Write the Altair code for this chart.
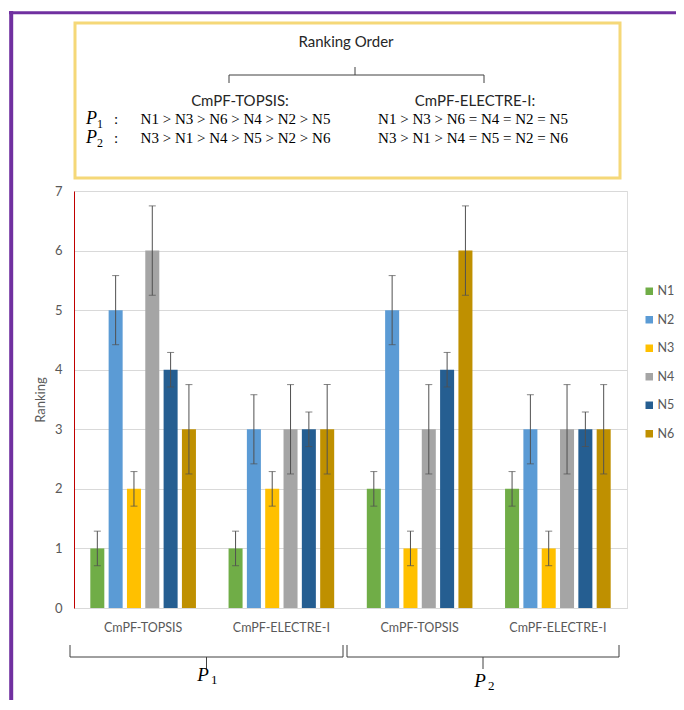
import altair as alt
import pandas as pd

# ---------------- data ----------------
groups = ["P1|CmPF-TOPSIS", "P1|CmPF-ELECTRE-I", "P2|CmPF-TOPSIS", "P2|CmPF-ELECTRE-I"]
series = ["N1", "N2", "N3", "N4", "N5", "N6"]
rank_p1_topsis = [1, 5, 2, 6, 4, 3]
rank_p1_electre = [1, 3, 2, 3, 3, 3]
rank_p2_topsis = [2, 5, 1, 3, 4, 6]
rank_p2_electre = [2, 3, 1, 3, 3, 3]
error_half = [0.29, 0.58, 0.29, 0.75, 0.29, 0.75]
colors = ["#70AD47", "#5B9BD5", "#FFC000", "#A5A5A5", "#255E91", "#BF9000"]
y_ticks = [0, 1, 2, 3, 4, 5, 6, 7]

box_title = "Ranking Order"
method_labels = ["CmPF-TOPSIS:", "CmPF-ELECTRE-I:"]
order_p1 = ["N1 > N3 > N6 > N4 > N2 > N5", "N1 > N3 > N6 = N4 = N2 = N5"]
order_p2 = ["N3 > N1 > N4 > N5 > N2 > N6", "N3 > N1 > N4 = N5 = N2 = N6"]
p_labels = ["1", "2"]

all_ranks = [rank_p1_topsis, rank_p1_electre, rank_p2_topsis, rank_p2_electre]
rows = []
for g, ranks in zip(groups, all_ranks):
    for s, v, e in zip(series, ranks, error_half):
        rows.append({"group": g, "series": s, "value": v, "lo": v - e, "hi": v + e})
df = pd.DataFrame(rows)
one = pd.DataFrame({"d": [0]})

W, H = 553, 417
SANS = "Lato"
SERIF = "Liberation Serif"
GRAY = "#595959"

x_enc = alt.X("group:N", sort=groups, title=None,
              scale=alt.Scale(paddingInner=0, paddingOuter=0),
              axis=alt.Axis(labelExpr="split(datum.label, '|')[1]", labelAngle=0,
                            ticks=False, domainColor="#D9D9D9", labelColor=GRAY,
                            labelFont=SANS, labelFontSize=12.5, labelPadding=13, grid=False))
xo_enc = alt.XOffset("series:N", sort=series,
                     scale=alt.Scale(paddingInner=0.235, paddingOuter=0.89))

base = alt.Chart(df)
bars = base.mark_bar().encode(
    x=x_enc, xOffset=xo_enc,
    y=alt.Y("value:Q", title="Ranking",
            scale=alt.Scale(domain=[0, 7], nice=False),
            axis=alt.Axis(values=y_ticks, format="d", grid=True, gridColor="#D9D9D9",
                          ticks=False, domainColor="#C00000", labelColor=GRAY,
                          labelFont=SANS, labelFontSize=13, labelPadding=12,
                          titleColor=GRAY, titleFont=SANS, titleFontSize=13,
                          titleFontWeight="normal", titlePadding=7)),
    color=alt.Color("series:N", sort=series,
                    scale=alt.Scale(domain=series, range=colors),
                    legend=alt.Legend(orient="none", legendX=569, legendY=94, title=None,
                                      symbolType="square", symbolSize=56, symbolStrokeWidth=0,
                                      labelFont=SANS, labelFontSize=12.5, labelColor=GRAY,
                                      rowPadding=15.5, labelOffset=2, padding=0)),
)
err = base.mark_rule(color="#505050", strokeWidth=1).encode(
    x=alt.X("group:N", sort=groups), xOffset=alt.XOffset("series:N", sort=series),
    y="lo:Q", y2="hi:Q")
cap_lo = base.mark_tick(color="#505050", thickness=1, size=7).encode(
    x=alt.X("group:N", sort=groups), xOffset=alt.XOffset("series:N", sort=series),
    y="lo:Q")
cap_hi = base.mark_tick(color="#505050", thickness=1, size=7).encode(
    x=alt.X("group:N", sort=groups), xOffset=alt.XOffset("series:N", sort=series),
    y="hi:Q")


def rule(x, y, x2, y2, color="#404040", width=1):
    return alt.Chart(one).mark_rule(color=color, strokeWidth=width).encode(
        x=alt.value(x), y=alt.value(y), x2=alt.value(x2), y2=alt.value(y2))


def text(t, x, y, font=SANS, size=15, align="center", style="normal", color="#262626"):
    return alt.Chart(one).mark_text(text=t, font=font, fontSize=size, align=align,
                                    baseline="middle", fontStyle=style, color=color).encode(
        x=alt.value(x), y=alt.value(y))


def brace_down(x1, x2, xm, y, h):  # opening downward, tip up
    return [rule(x1, y, x2, y), rule(x1, y, x1, y + h), rule(x2, y, x2, y + h),
            rule(xm, y, xm, y - h)]


def brace_up(x1, x2, xm, y, h):  # opening upward, tip down
    return [rule(x1, y, x2, y), rule(x1, y, x1, y - h), rule(x2, y, x2, y - h),
            rule(xm, y, xm, y + h)]


deco = []
# purple frame
deco.append(rule(-62.8, -180, -62.8, 520, color="#7030A0", width=4))
deco.append(rule(-65, -178.2, 620, -178.2, color="#7030A0", width=3))
# yellow box
deco.append(alt.Chart(one).mark_rect(fillOpacity=0, stroke="#F5D878", strokeWidth=3).encode(
    x=alt.value(1), x2=alt.value(546), y=alt.value(-168), y2=alt.value(-13)))
deco.append(text(box_title, 272, -149))
deco += brace_down(155, 410, 281, -116, 8)
deco.append(text(method_labels[0], 166, -90))
deco.append(text(method_labels[1], 401, -90))
for yy, lab, rowtexts in [(-72, p_labels[0], order_p1), (-53, p_labels[1], order_p2)]:
    deco.append(text("P", 12, yy, font=SERIF, size=18, align="left", style="italic", color="#000"))
    deco.append(text(lab, 23, yy + 5, font=SERIF, size=12, align="left", color="#000"))
    deco.append(text(":", 40, yy, font=SERIF, size=15, align="left", color="#000"))
    deco.append(text(rowtexts[0], 161.5, yy, font=SERIF, size=15, color="#000"))
    deco.append(text(rowtexts[1], 399, yy, font=SERIF, size=15, color="#000"))
# bottom braces
deco += brace_up(-4, 269, 132.5, 466, 12)
deco += brace_up(273, 545, 409, 466, 12)
for xx, yy, lab in [(133, 484, p_labels[0]), (410, 490, p_labels[1])]:
    deco.append(text("P", xx - 4, yy, font=SERIF, size=19, align="center", style="italic", color="#000"))
    deco.append(text(lab, xx + 4, yy + 5, font=SERIF, size=13, align="left", color="#000"))

chart = alt.layer(bars, err, cap_lo, cap_hi, *deco).properties(
    width=W, height=H,
    autosize=alt.AutoSizeParams(type="none"),
    padding={"left": 66, "top": 183, "right": 49, "bottom": 92},
).configure_view(strokeWidth=0).configure(background="white")

chart.save("out.html", embed_options={"renderer": "svg", "actions": False})
